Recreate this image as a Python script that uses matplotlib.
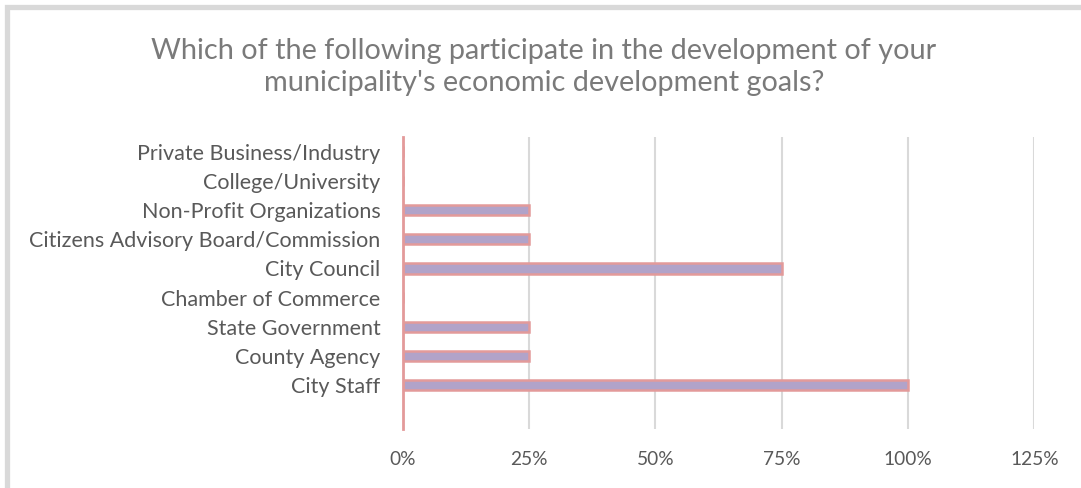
import matplotlib.pyplot as plt
from matplotlib.patches import Rectangle
from matplotlib.ticker import FuncFormatter

plt.rcParams['font.family'] = ['Lato', 'DejaVu Sans']

# bottom to top, with an empty slot under the last bar
categories = ['', 'City Staff', 'County Agency', 'State Government',
              'Chamber of Commerce', 'City Council',
              'Citizens Advisory Board/Commission', 'Non-Profit Organizations',
              'College/University', 'Private Business/Industry']
shares = [0, 100, 25, 25, 0, 75, 25, 25, 0, 0]
x_ticks = [0, 25, 50, 75, 100, 125]

title = ("Which of the following participate in the development of your\n"
         "municipality's economic development goals?")

fig = plt.figure(figsize=(10.81, 4.88), dpi=100)

# chart frame, only the top and left edges fall inside the image
fig.patches.append(Rectangle((6.5 / 1081, -0.1), 1.2, 1.1 - 7 / 488,
                             transform=fig.transFigure, fill=False,
                             edgecolor='#d9d9d9', linewidth=3.8))

ax = fig.add_axes([402.7 / 1081, 1 - 429 / 488, 631.6 / 1081, 292 / 488])

pos = list(range(len(categories)))
ax.barh(pos[1:], shares[1:], height=0.36, color='#b1a3c9',
        edgecolor='#e39a9a', linewidth=1.8, zorder=3)

ax.set_xlim(0, 125)
ax.set_ylim(-0.5, len(categories) - 0.5)
ax.set_xticks(x_ticks)
ax.xaxis.set_major_formatter(FuncFormatter(lambda v, p: f'{v:.0f}%'))
ax.set_yticks(pos)
ax.set_yticklabels(categories)

ax.grid(axis='x', color='#d9d9d9', linewidth=1.5, zorder=0)
for side in ['top', 'right', 'bottom']:
    ax.spines[side].set_visible(False)
ax.spines['left'].set_color('#e39a9a')
ax.spines['left'].set_linewidth(2)
ax.spines['left'].set_zorder(4)
ax.tick_params(axis='both', length=0, labelcolor='#595959')
ax.tick_params(axis='x', pad=16, labelsize=13.8)
ax.tick_params(axis='y', pad=16, labelsize=15.5)

fig.text(0.503, 1 - 67 / 488, title, ha='center', va='center',
         fontsize=20.8, color='#7a7a7a', linespacing=1.3)

fig.savefig('out.png', dpi=100)
